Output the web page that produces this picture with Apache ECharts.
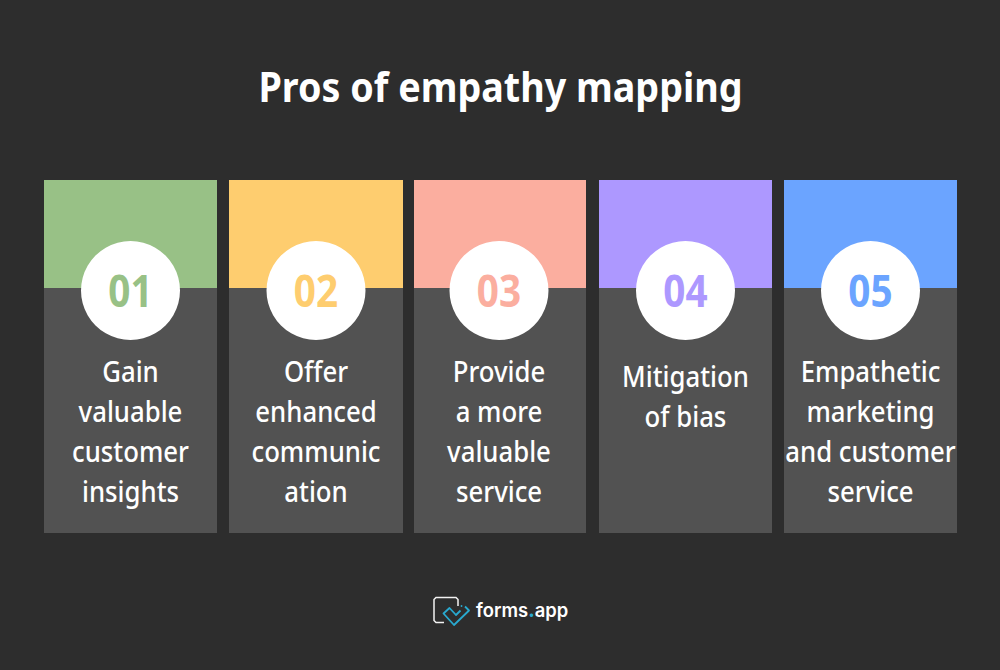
<!DOCTYPE html>
<html>
<head>
<meta charset="utf-8">
<title>Pros of empathy mapping</title>
<style>
  html, body { margin: 0; padding: 0; background: #2d2d2d; }
  #chart { width: 1000px; height: 670px; }
</style>
<script src="https://cdn.jsdelivr.net/npm/echarts@6/dist/echarts.min.js"></script>
</head>
<body>
<div id="chart"></div>
<script>
const titleText = 'Pros of empathy mapping';
const numbers = ['01', '02', '03', '04', '05'];
const captions = [
  ['Gain', 'valuable', 'customer', 'insights'],
  ['Offer', 'enhanced', 'communic', 'ation'],
  ['Provide', 'a more', 'valuable', 'service'],
  ['Mitigation', 'of bias'],
  ['Empathetic', 'marketing', 'and customer', 'service']
];
const colors = ['#98c186', '#fecd6f', '#fbae9f', '#ad98ff', '#6ba4ff'];

const cardLeft = [44, 229, 414, 599, 784];
const cardWidth = [173, 174, 172, 173, 173];
const centers = [130.5, 316, 499, 685.5, 870.5];
const font = '"Noto Sans", sans-serif';

const myChart = echarts.init(document.getElementById('chart'), null, { renderer: 'svg' });
const elements = [];

numbers.forEach((num, i) => {
  const x = cardLeft[i], w = cardWidth[i], cx = centers[i];
  elements.push({ type: 'rect', shape: { x, y: 180, width: w, height: 108 }, style: { fill: colors[i] } });
  elements.push({ type: 'rect', shape: { x, y: 288, width: w, height: 245 }, style: { fill: '#525252' } });
  elements.push({ type: 'circle', shape: { cx, cy: 290.5, r: 49.5 }, style: { fill: '#ffffff' } });
  elements.push({
    type: 'text', x: cx, y: 290.5, scaleX: 0.88,
    style: { text: num, fill: colors[i], font: 'bold 44px ' + font, align: 'center', verticalAlign: 'middle' }
  });
  const startY = captions[i].length === 2 ? 377 : 372;
  captions[i].forEach((line, j) => {
    elements.push({
      type: 'text', x: cx, y: startY - 1 + j * 40, scaleX: 0.92,
      style: { text: line, fill: '#ffffff', font: '500 28px ' + font, align: 'center', verticalAlign: 'middle' }
    });
  });
});

elements.push({
  type: 'text', x: 500.5, y: 86, scaleX: 0.92,
  style: { text: titleText, fill: '#ffffff', font: 'bold 41px ' + font, align: 'center', verticalAlign: 'middle' }
});

// logo
elements.push({
  type: 'polyline',
  shape: { points: [[444, 622.5], [436, 622.5], [434, 620.5], [434, 599.5], [436, 597.5], [456, 597.5], [458, 599.5], [458, 606]] },
  style: { fill: 'none', stroke: '#f2f2f2', lineWidth: 1.5 }
});
elements.push({
  type: 'polyline',
  shape: { points: [[460.5, 610.5], [456, 615], [449.5, 608], [443.5, 613.5], [454, 625], [469, 610.5], [465, 606.5]] },
  style: { fill: 'none', stroke: '#29a9cf', lineWidth: 1.8, lineJoin: 'round' }
});
elements.push({ type: 'circle', shape: { cx: 461.5, cy: 606, r: 0.9 }, style: { fill: '#29a9cf' } });
elements.push({
  type: 'text', x: 476, y: 610, scaleX: 0.97,
  style: {
    text: '{a|forms}{b|.}{a|app}',
    align: 'left', verticalAlign: 'middle',
    rich: {
      a: { fill: '#ffffff', font: '600 19px Inter, sans-serif' },
      b: { fill: '#29a9cf', font: '800 19px Inter, sans-serif' }
    }
  }
});

myChart.setOption({
  backgroundColor: '#2d2d2d',
  animation: false,
  graphic: { elements }
});
</script>
</body>
</html>
